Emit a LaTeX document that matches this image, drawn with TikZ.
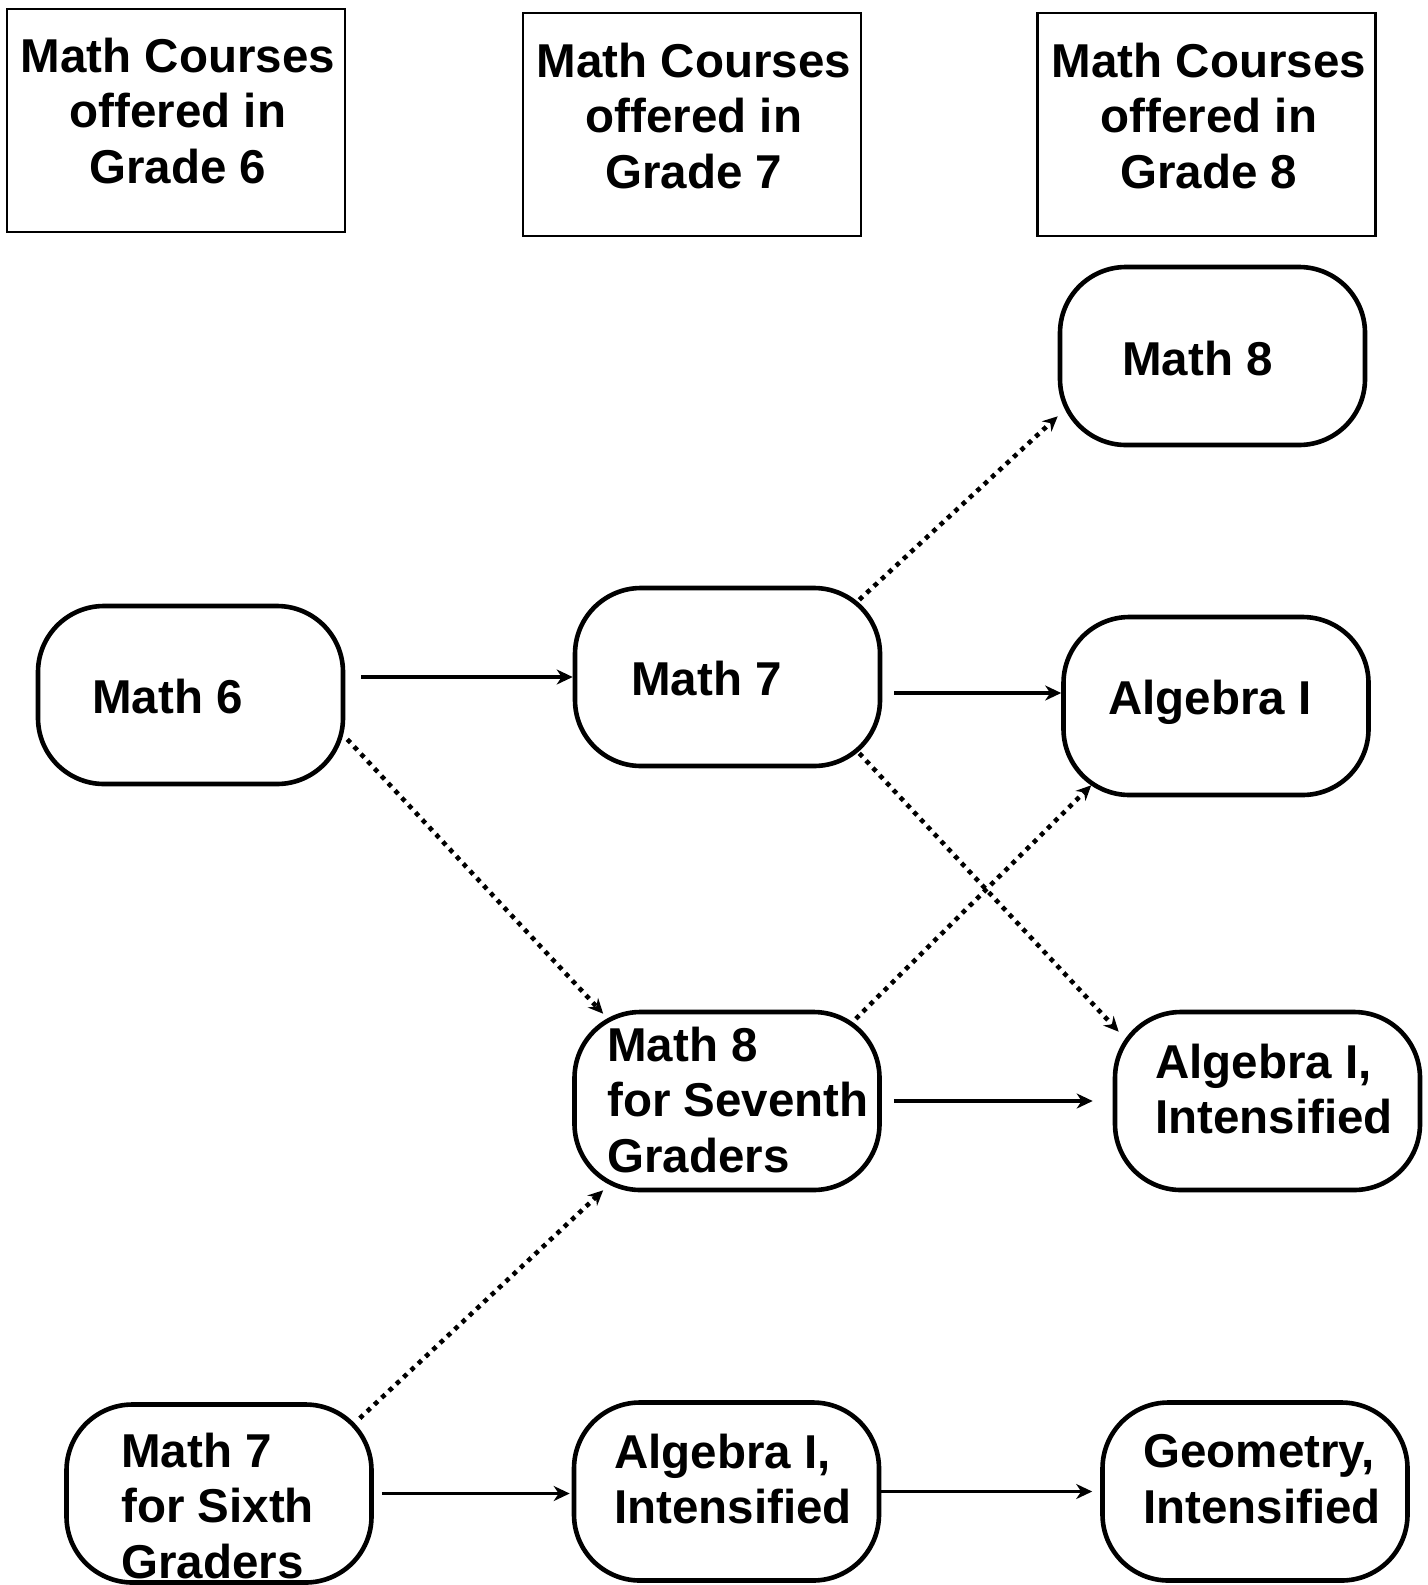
\documentclass[tikz,border=0pt]{standalone}
\usepackage{fontspec}
\setmainfont{Liberation Sans}
\usetikzlibrary{arrows.meta}

\tikzset{
  header/.style={draw, line width=1.1pt, minimum width=169pt, minimum height=111.5pt},
  course/.style={draw, line width=2.3pt, rounded corners=33pt, minimum width=152.5pt, minimum height=89pt},
  lbl/.style={inner sep=0pt, font=\fontsize{23.75}{27.8}\selectfont\bfseries},
  flow/.style={line width=1.9pt, -{Stealth[length=8pt, width=7.5pt, inset=2.5pt]}},
  maybe/.style={line width=2.3pt, dash pattern=on 2.3pt off 2.7pt, -{Stealth[length=7.5pt, width=7pt, inset=2.5pt]}}
}

\begin{document}
\begin{tikzpicture}[x=0.5pt, y=-0.5pt]
    \useasboundingbox (0,0) rectangle (1428,1585);

    % grade headers
    \node[header] (h6) at (176,120.5) {};
    \node[header] (h7) at (692,124.5) {};
    \node[header] (h8) at (1206.5,124.5) {};
    \node[lbl, align=center] (h6-lbl) at (178,111) {Math Courses\\offered in\\Grade 6};
    \node[lbl, align=center] (h7-lbl) at (694,116) {Math Courses\\offered in\\Grade 7};
    \node[lbl, align=center] (h8-lbl) at (1209,116) {Math Courses\\offered in\\Grade 8};

    % courses
    \node[course] (m6)  at (190.5,695) {};
    \node[course] (m7)  at (727.5,677) {};
    \node[course] (m8)  at (1212.5,356) {};
    \node[course] (a1)  at (1216,706) {};
    \node[course] (m8s) at (727,1101) {};
    \node[course] (ai)  at (1267.5,1101) {};
    \node[course] (m7s) at (219,1493.5) {};
    \node[course] (aim) at (726.5,1491.5) {};
    \node[course] (geo) at (1255,1491.5) {};

    \node[lbl, anchor=west] (m6-lbl)  at (92,697) {Math 6};
    \node[lbl, anchor=west] (m7-lbl)  at (631,679) {Math 7};
    \node[lbl, anchor=west] (m8-lbl)  at (1122,359) {Math 8};
    \node[lbl, anchor=west] (a1-lbl)  at (1108,702) {Algebra I};
    \node[lbl, anchor=west, align=left] (m8s-lbl) at (607,1100) {Math 8\\for Seventh\\Graders};
    \node[lbl, anchor=west, align=left] (ai-lbl)  at (1155,1089) {Algebra I,\\Intensified};
    \node[lbl, anchor=west, align=left] (m7s-lbl) at (121,1506) {Math 7\\for Sixth\\Graders};
    \node[lbl, anchor=west, align=left] (aim-lbl) at (614,1479) {Algebra I,\\Intensified};
    \node[lbl, anchor=west, align=left] (geo-lbl) at (1143,1479) {Geometry,\\Intensified};

    % usual paths
    \draw[flow, shorten <=8pt] (m6.east |- m7.west) -- (m7.west);
    \draw[flow, shorten <=6pt] ([yshift=-8pt]m7.east) -- ([yshift=-8pt]m7.east -| a1.west);
    \draw[flow, shorten <=6pt, shorten >=10pt] (m8s.east) -- (ai.west);
    \draw[flow, shorten <=4pt, shorten >=1pt] (m7s.east) -- (m7s.east -| aim.west);
    \draw[flow, shorten >=4pt] (aim.east) -- (aim.east -| geo.west);

    % other paths
    \draw[maybe] ([xshift=-11.5pt, yshift=-7pt]m7.north east) -- ([yshift=15.5pt]m8.south west);
    \draw[maybe] ([xshift=1pt, yshift=23.5pt]m6.south east) -- ([xshift=15.5pt, yshift=-2pt]m8s.north west);
    \draw[maybe] ([xshift=-11.5pt, yshift=7.5pt]m7.south east) -- ([xshift=3pt, yshift=-11pt]ai.north west);
    \draw[maybe] ([xshift=-13pt, yshift=-4.5pt]m8s.north east) -- ([xshift=15pt, yshift=6pt]a1.south west);
    \draw[maybe] ([xshift=-7pt, yshift=-8pt]m7s.north east) -- ([xshift=15.5pt, yshift=1pt]m8s.south west);
\end{tikzpicture}
\end{document}
